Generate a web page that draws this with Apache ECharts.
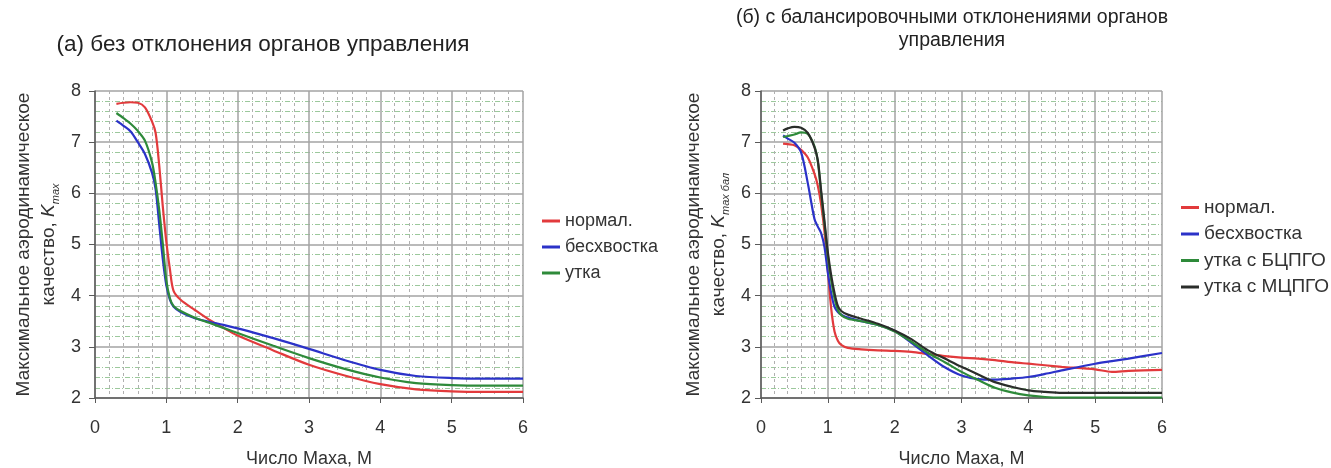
<!DOCTYPE html>
<html><head><meta charset="utf-8">
<script src="https://cdn.jsdelivr.net/npm/echarts@6/dist/echarts.min.js"></script>
<style>html,body{margin:0;padding:0;background:#fff}#c{width:1331px;height:468px}</style>
</head><body><div id="c"></div>
<script>
// ---- Chart (a): без отклонения органов управления ----
const machA = [0.3,0.4,0.5,0.6,0.7,0.8,0.85,0.9,0.95,1.0,1.05,1.1,1.2,1.4,1.6,1.8,2.0,2.5,3.0,3.5,4.0,4.5,5.0,5.5,6.0];
const normA = [7.75,7.77,7.78,7.77,7.68,7.40,7.18,6.55,5.75,5.05,4.52,4.10,3.92,3.72,3.53,3.37,3.22,2.93,2.65,2.44,2.27,2.17,2.13,2.12,2.12];
const tailA = [7.42,7.32,7.21,7.00,6.77,6.40,6.08,5.40,4.72,4.20,3.92,3.79,3.68,3.56,3.49,3.43,3.36,3.17,2.96,2.74,2.55,2.43,2.39,2.38,2.38];
const canA  = [7.57,7.47,7.36,7.22,7.03,6.60,6.20,5.68,5.02,4.30,3.95,3.80,3.70,3.57,3.47,3.37,3.27,3.02,2.78,2.57,2.40,2.29,2.25,2.24,2.24];

// ---- Chart (б): с балансировочными отклонениями ----
const machB = [0.33,0.4,0.5,0.6,0.7,0.8,0.85,0.9,0.95,1.0,1.05,1.1,1.15,1.2,1.3,1.5,1.75,2.0,2.25,2.5,2.75,3.0,3.25,3.5,3.75,4.0,4.25,4.5,5.0,5.25,5.5,6.0];
const normB = [6.97,6.96,6.94,6.85,6.70,6.38,6.15,5.78,5.25,4.50,3.75,3.30,3.12,3.04,2.98,2.95,2.93,2.92,2.90,2.86,2.82,2.79,2.77,2.74,2.70,2.67,2.64,2.61,2.56,2.51,2.53,2.55];
const tailB = [7.13,7.07,6.99,6.80,6.20,5.50,5.35,5.22,4.95,4.45,4.05,3.78,3.68,3.63,3.57,3.50,3.43,3.31,3.08,2.83,2.60,2.44,2.37,2.36,2.38,2.41,2.47,2.54,2.67,2.72,2.77,2.88];
const canBB = [7.10,7.12,7.15,7.19,7.16,6.92,6.62,6.00,5.40,4.78,4.30,3.95,3.72,3.62,3.55,3.50,3.43,3.30,3.10,2.88,2.70,2.51,2.35,2.20,2.11,2.05,2.02,2.01,2.01,2.01,2.01,2.01];
const canBM = [7.23,7.27,7.30,7.28,7.18,6.90,6.65,6.05,5.45,4.85,4.40,4.05,3.80,3.70,3.63,3.55,3.45,3.32,3.15,2.93,2.77,2.61,2.46,2.31,2.22,2.15,2.12,2.10,2.10,2.10,2.10,2.10];

const legendA = ['нормал.','бесхвостка','утка'];
const legendB = ['нормал.','бесхвостка','утка с БЦПГО','утка с МЦПГО'];
const titleA = '(а) без отклонения органов управления';
const titleB = '(б) с балансировочными отклонениями органов\nуправления';
const xName = 'Число Маха, М';
const yNameA = 'Максимальное аэродинамическое\nкачество, {i|K}{s|max}';
const yNameB = 'Максимальное аэродинамическое\nкачество, {i|K}{s|max бал}';

const C = {red:'#e23a3c', blue:'#2b32c8', green:'#2e8a3a', black:'#2a2d2a'};
const FONT = '"Liberation Sans", Arial, sans-serif';

function pairs(xs, ys){ return xs.map((x,i)=>[x, ys[i]]); }

function xAx(idx){
  return {
    type:'value', gridIndex:idx, min:0, max:6, interval:1,
    name:xName, nameLocation:'middle', nameGap:52,
    nameTextStyle:{fontFamily:FONT, fontSize:18, color:'#333'},
    axisLine:{onZero:false, lineStyle:{color:'#5a5a5a', width:1.5}},
    axisTick:{show:true, length:5, lineStyle:{color:'#5a5a5a'}},
    axisLabel:{fontFamily:FONT, fontSize:18, color:'#333', margin:21},
    splitLine:{show:true, lineStyle:{color:'#a3a3a3', width:1.5}},
    minorTick:{show:false, splitNumber:5},
    minorSplitLine:{show:true, lineStyle:{color:'#b0b0b0', width:1, type:[3,3]}}
  };
}
function yAx(idx, name, gap, margin){
  return {
    type:'value', gridIndex:idx, min:2, max:8, interval:1,
    name:name, nameLocation:'middle', nameRotate:90, nameGap:gap,
    nameTextStyle:{fontFamily:FONT, fontSize:19, color:'#333', lineHeight:25,
      rich:{
        i:{fontFamily:FONT, fontSize:19, fontStyle:'italic', color:'#333', lineHeight:25},
        s:{fontFamily:FONT, fontSize:11, fontStyle:'italic', color:'#333', lineHeight:12, verticalAlign:'bottom'}
      }},
    axisLine:{show:true, lineStyle:{color:'#5a5a5a', width:1.5}},
    axisTick:{show:true, length:6, lineStyle:{color:'#5a5a5a'}},
    axisLabel:{fontFamily:FONT, fontSize:18, color:'#333', margin:margin},
    splitLine:{show:true, lineStyle:{color:'#a3a3a3', width:1.5}},
    minorTick:{show:false, splitNumber:5},
    minorSplitLine:{show:true, lineStyle:{color:'#9cc89c', width:1, type:[5,2,1,2]}}
  };
}
function line(name, color, xi, xs, ys){
  return {type:'line', name:name, xAxisIndex:xi, yAxisIndex:xi, data:pairs(xs, ys),
    showSymbol:false, smooth:0.3, lineStyle:{color:color, width:2.2}, itemStyle:{color:color}};
}

const chart = echarts.init(document.getElementById('c'), null, {renderer:'canvas'});
chart.setOption({
  backgroundColor:'#fff',
  animation:false,
  title:[
    {text:titleA, left:263, top:33, textAlign:'center', padding:0,
     textStyle:{fontFamily:FONT, fontSize:22.5, fontWeight:'normal', color:'#222'}},
    {text:titleB, left:952, top:6, textAlign:'center', padding:0,
     textStyle:{fontFamily:FONT, fontSize:19.5, fontWeight:'normal', color:'#222', lineHeight:23}}
  ],
  legend:[
    {data:legendA, orient:'vertical', left:542, top:212, itemWidth:18, itemHeight:3, itemGap:8,
     icon:'rect', selectedMode:false, padding:0,
     textStyle:{fontFamily:FONT, fontSize:18, color:'#333'}},
    {data:legendB, orient:'vertical', left:1181, top:198, itemWidth:18, itemHeight:3, itemGap:7.5,
     icon:'rect', selectedMode:false, padding:0,
     textStyle:{fontFamily:FONT, fontSize:19, color:'#333'}}
  ],
  grid:[
    {left:95, top:91, width:428, height:307, containLabel:false, outerBoundsMode:'none'},
    {left:761, top:91, width:401, height:307, containLabel:false, outerBoundsMode:'none'}
  ],
  xAxis:[xAx(0), xAx(1)],
  yAxis:[yAx(0, yNameA, 34, 14), yAx(1, yNameB, 30, 10)],
  series:[
    line('нормал.', C.red, 0, machA, normA),
    line('бесхвостка', C.blue, 0, machA, tailA),
    line('утка', C.green, 0, machA, canA),
    line('нормал.', C.red, 1, machB, normB),
    line('бесхвостка', C.blue, 1, machB, tailB),
    line('утка с БЦПГО', C.green, 1, machB, canBB),
    line('утка с МЦПГО', C.black, 1, machB, canBM)
  ]
});
</script>
</body></html>
